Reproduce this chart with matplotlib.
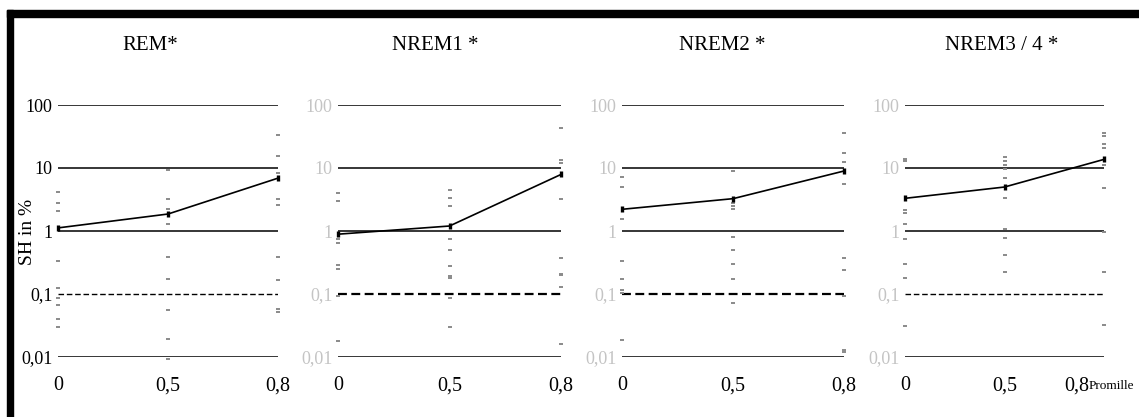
import matplotlib.pyplot as plt
from matplotlib.patches import Rectangle
from matplotlib.ticker import NullLocator

plt.rcParams['font.family'] = ['Liberation Serif', 'DejaVu Serif']

# x categories (Promille) and y decades
categories = ['0', '0,5', '0,8']
ytick_vals = [0.01, 0.1, 1, 10, 100]
ytick_labels = ['0,01', '0,1', '1', '10', '100']

stages = ['REM*', 'NREM1 *', 'NREM2 *', 'NREM3 / 4 *']

# mean SH in % per stage and category
rem_mean = [1.12, 1.86, 6.9]
nrem1_mean = [0.89, 1.2, 7.9]
nrem2_mean = [2.21, 3.26, 8.96]
nrem34_mean = [3.3, 4.99, 13.7]

# single subject values per stage and category
rem_single = [
    [4.14, 2.76, 2.04, 0.33, 0.126, 0.086, 0.066, 0.040, 0.030],
    [9.4, 3.24, 2.22, 1.29, 0.39, 0.17, 0.055, 0.019, 0.0093],
    [32.8, 15.3, 8.3, 3.24, 2.54, 0.39, 0.165, 0.058, 0.052],
]
nrem1_single = [
    [4.06, 2.99, 0.74, 0.65, 0.29, 0.25, 0.093, 0.018],
    [4.42, 3.3, 2.49, 0.76, 0.5, 0.28, 0.19, 0.18, 0.087, 0.030],
    [42.6, 13.2, 12.2, 3.18, 0.37, 0.21, 0.2, 0.13, 0.016],
]
nrem2_single = [
    [7.2, 4.99, 1.57, 0.33, 0.17, 0.116, 0.105, 0.0186],
    [9.0, 2.82, 2.49, 2.21, 0.81, 0.5, 0.30, 0.17, 0.073],
    [36.4, 17.1, 12.6, 5.5, 0.37, 0.24, 0.093, 0.013, 0.012],
]
nrem34_single = [
    [14.1, 13.0, 2.15, 1.9, 1.28, 0.74, 0.30, 0.18, 0.031],
    [15.0, 13.1, 11.3, 9.7, 7.0, 3.38, 1.09, 0.78, 0.41, 0.22],
    [36.4, 32.1, 23.7, 21.0, 11.3, 4.75, 0.98, 0.22, 0.032],
]

means = [rem_mean, nrem1_mean, nrem2_mean, nrem34_mean]
singles = [rem_single, nrem1_single, nrem2_single, nrem34_single]

W, H = 1139, 417
fig = plt.figure(figsize=(W / 100, H / 100), dpi=100)

# panel placement in pixels: left, width
panels = [(58, 220), (338, 223), (622, 222), (905, 199)]
top_px, bot_px = 105, 357
title_x = [150, 435, 722, 1002]
dash_lw = [1.0, 1.6, 1.6, 1.0]

for i, (left, width) in enumerate(panels):
    ax = fig.add_axes([left / W, (H - bot_px) / H, width / W, (bot_px - top_px) / H])
    ax.set_yscale('log')
    ax.set_ylim(0.01, 100)
    ax.set_xlim(0, 2)
    for s in ax.spines.values():
        s.set_visible(False)

    for v in ytick_vals:
        if v == 0.1:
            ax.axhline(v, color='black', lw=dash_lw[i], ls=(0, (4, 2)))
        else:
            ax.axhline(v, color='black', lw=1.1)

    for j in range(len(categories)):
        vals = singles[i][j]
        ax.plot([j] * len(vals), vals, ls='none', marker='_', ms=3.5, mew=1.4,
                color='#8a8a8a', clip_on=False, zorder=3)

    ax.plot(range(len(categories)), means[i], color='black', lw=1.2, marker='|',
            ms=5, mew=2.4, clip_on=False, zorder=4)

    ax.set_yticks(ytick_vals)
    ax.set_yticklabels(ytick_labels)
    ax.yaxis.set_minor_locator(NullLocator())
    ax.set_xticks(range(len(categories)))
    if i == 3:
        ax.set_xticklabels(categories[:2] + [''])
    else:
        ax.set_xticklabels(categories)
    ax.tick_params(length=0)
    ax.tick_params(axis='x', pad=14, labelsize=14.5, labelcolor='black')
    ax.tick_params(axis='y', pad=4, labelsize=13,
                   labelcolor='black' if i == 0 else '#c4c4c4')

    fig.text(title_x[i] / W, 1 - 45 / H, stages[i], ha='center', va='center',
             fontsize=15)

# last category label of the right panel with the unit
fig.text(1077 / W, 1 - 386 / H, categories[2], ha='center', va='center', fontsize=14.5)
fig.text(1089 / W, 1 - 386 / H, 'Promille', ha='left', va='center', fontsize=9.5)

fig.text(28 / W, 1 - 232 / H, 'SH in %', rotation=90, ha='center', va='center',
         fontsize=14)

# heavy frame along the top and left edge
fig.patches.append(Rectangle((7 / W, 0), 6 / W, 1 - 10 / H, transform=fig.transFigure,
                             color='black', zorder=10))
fig.patches.append(Rectangle((7 / W, 1 - 17 / H), 1 - 7 / W, 7 / H,
                             transform=fig.transFigure, color='black', zorder=10))

fig.savefig('out.png', dpi=100)
